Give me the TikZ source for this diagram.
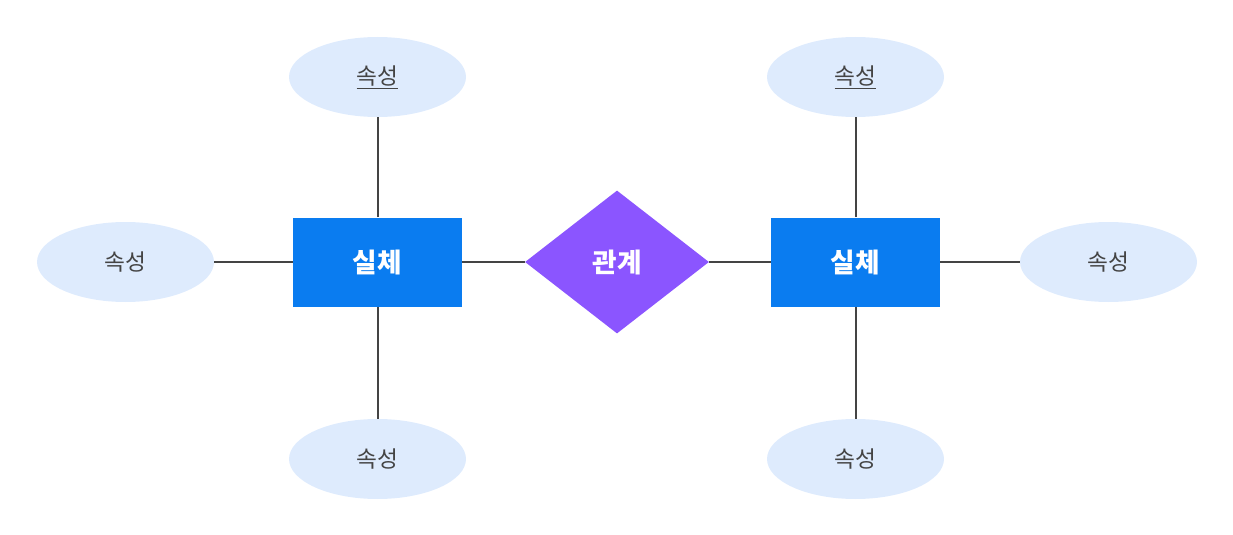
\documentclass[tikz,border=0pt]{standalone}
\usepackage{fontspec}
\setmainfont{Noto Sans CJK KR}
\usetikzlibrary{shapes.geometric}
\definecolor{ent}{HTML}{0A7CF0}
\definecolor{rel}{HTML}{8B55FF}
\definecolor{att}{HTML}{DEEBFD}
\definecolor{ln}{HTML}{444444}
\begin{document}
\begin{tikzpicture}[x=0.75pt,y=-0.75pt,
  ent/.style={rectangle,fill=ent,minimum width=169*0.75pt,minimum height=89*0.75pt,text=white,font=\bfseries\fontsize{20}{24}\selectfont,inner sep=0},
  rel/.style={diamond,fill=rel,minimum width=184*0.75pt,minimum height=143*0.75pt,text=white,font=\bfseries\fontsize{20}{24}\selectfont,inner sep=0,aspect=1.29},
  att/.style={ellipse,fill=att,minimum width=177*0.75pt,minimum height=80*0.75pt,text=ln,font=\fontsize{17}{20}\selectfont,inner sep=0},
  con/.style={draw=ln,line width=1.5pt}]
\useasboundingbox (0,0) rectangle (1233,535);
\node[ent] (e1) at (377.5,262) {실체};
\node[ent] (e2) at (855.5,262) {실체};
\node[rel] (r) at (617,262) {관계};
\node[att] (a1) at (377.5,77) {\underline{속성}};
\node[att] (a2) at (125.5,262) {속성};
\node[att] (a3) at (377.5,459) {속성};
\node[att] (a4) at (855.5,77) {\underline{속성}};
\node[att] (a5) at (1108.5,262) {속성};
\node[att] (a6) at (855.5,459) {속성};
\draw[con] (e1) -- (a1);
\draw[con] (e1) -- (a2);
\draw[con] (e1) -- (a3);
\draw[con] (e1) -- (r);
\draw[con] (r) -- (e2);
\draw[con] (e2) -- (a4);
\draw[con] (e2) -- (a5);
\draw[con] (e2) -- (a6);
\end{tikzpicture}
\end{document}
